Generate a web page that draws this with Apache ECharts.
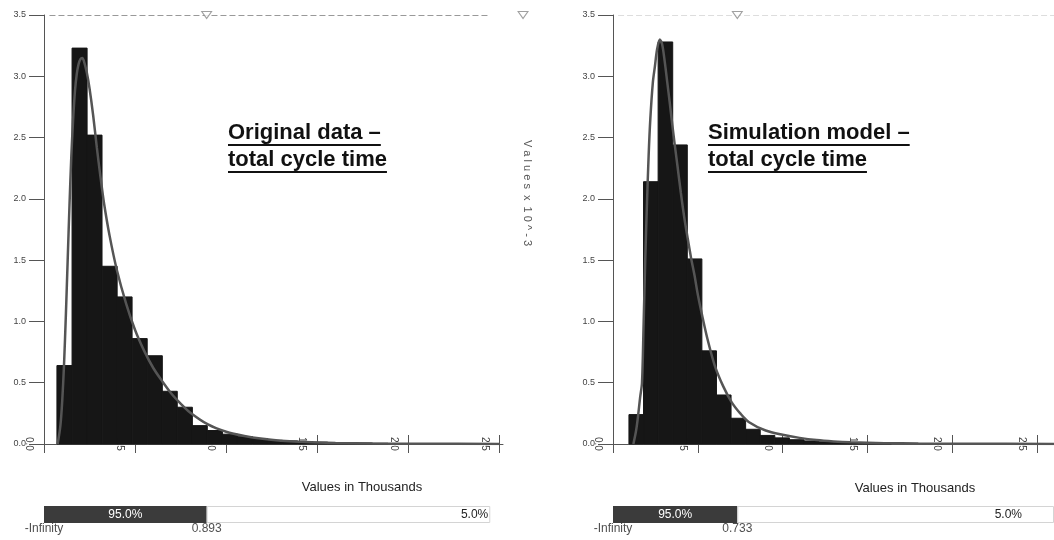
<!DOCTYPE html>
<html><head><meta charset="utf-8">
<script src="https://cdn.jsdelivr.net/npm/echarts@6/dist/echarts.min.js"></script>
<style>html,body{margin:0;padding:0;background:#fff}#c{width:1054px;height:540px}</style>
</head><body><div id="c"></div>
<script>
// ---------------- data ----------------
const xTickValues = [0, 0.5, 1.0, 1.5, 2.0, 2.5];
const xTickLabels = ['0.0', '0.5', '1.0', '1.5', '2.0', '2.5'];
const yTickLabels = ['0.0', '0.5', '1.0', '1.5', '2.0', '2.5', '3.0', '3.5'];

// Left: original data histogram (bin starts, in thousands; heights x 10^-3)
const leftBinWidth = 0.0826;
const leftBinStarts = [0.071, 0.154, 0.236, 0.319, 0.401, 0.484, 0.567, 0.649, 0.732, 0.814, 0.897,
  0.980, 1.062, 1.145, 1.227, 1.310, 1.393, 1.475, 1.558, 1.640, 1.723, 1.806];
const leftBinHeights = [0.64, 3.23, 2.52, 1.45, 1.20, 0.86, 0.72, 0.43, 0.30, 0.15, 0.11,
  0.08, 0.06, 0.045, 0.03, 0.025, 0.02, 0.015, 0.012, 0.01, 0.008, 0.006];
const leftCurveX = [0.075, 0.09, 0.10, 0.11, 0.12, 0.13, 0.14, 0.15, 0.16, 0.17, 0.18, 0.19, 0.20, 0.21,
  0.22, 0.235, 0.25, 0.27, 0.29, 0.31, 0.33, 0.36, 0.40, 0.45, 0.50, 0.55, 0.60, 0.65, 0.70, 0.75, 0.80,
  0.90, 1.00, 1.10, 1.20, 1.30, 1.40, 1.60, 1.80, 2.10, 2.50];
const leftCurveY = [0, 0.15, 0.35, 0.65, 1.05, 1.5, 1.95, 2.35, 2.65, 2.88, 3.02, 3.1, 3.14, 3.15,
  3.12, 3.03, 2.9, 2.68, 2.42, 2.18, 1.96, 1.70, 1.42, 1.15, 0.93, 0.76, 0.62, 0.51, 0.41, 0.33, 0.26,
  0.16, 0.10, 0.065, 0.042, 0.027, 0.018, 0.008, 0.004, 0.002, 0.001];

// Right: simulation model histogram
const rightBinWidth = 0.086;
const rightBinStarts = [0.094, 0.180, 0.266, 0.352, 0.438, 0.524, 0.610, 0.696, 0.782, 0.868, 0.954,
  1.040, 1.126, 1.212, 1.298, 1.384, 1.470, 1.556];
const rightBinHeights = [0.24, 2.14, 3.28, 2.44, 1.51, 0.76, 0.40, 0.21, 0.12, 0.07, 0.05,
  0.035, 0.025, 0.018, 0.012, 0.008, 0.006, 0.004];
const rightCurveX = [0.12, 0.135, 0.147, 0.16, 0.171, 0.18, 0.19, 0.20, 0.21, 0.22, 0.235, 0.247, 0.26,
  0.276, 0.29, 0.305, 0.32, 0.335, 0.35, 0.365, 0.38, 0.40, 0.42, 0.44, 0.46, 0.48, 0.50, 0.53, 0.56,
  0.60, 0.65, 0.70, 0.75, 0.80, 0.90, 1.00, 1.10, 1.20, 1.30, 1.40, 1.60, 1.80, 2.10, 2.60];
const rightCurveY = [0, 0.1, 0.22, 0.38, 0.5, 0.95, 1.5, 1.95, 2.35, 2.65, 2.95, 3.08, 3.22,
  3.30, 3.26, 3.12, 2.95, 2.78, 2.6, 2.43, 2.27, 2.05, 1.85, 1.68, 1.52, 1.38, 1.22, 1.02, 0.84,
  0.64, 0.47, 0.34, 0.25, 0.18, 0.11, 0.075, 0.05, 0.032, 0.021, 0.014, 0.007, 0.004, 0.002, 0.001];

// Percentile bars
const leftCut = 0.893;
const rightCut = 0.733;
const pctLabels = ['95.0%', '5.0%'];
const lowerBoundLabel = '-Infinity';

// ---------------- layout ----------------
const FONT = '"Liberation Sans", Arial, sans-serif';
const leftMax = 2.52, rightMax = 2.6;
const leftBarEnd = 2.45, rightBarEnd = 2.6;
const leftUpperMarker = 2.63;

function mainX(gridIndex, max) {
  return {
    type: 'value', gridIndex, min: 0, max, position: 'bottom',
    axisLine: { show: true, onZero: false, lineStyle: { color: '#555', width: 1 } },
    axisTick: { show: true, length: 9, customValues: xTickValues, lineStyle: { color: '#555' } },
    axisLabel: {
      show: true, customValues: xTickValues,
      formatter: v => { const i = xTickValues.indexOf(v); return i >= 0 ? xTickLabels[i] : ''; },
      rotate: -90, margin: -7, verticalAlign: 'top', padding: [10, 0, 0, 0],
      fontSize: 10, color: '#444', fontFamily: FONT
    },
    splitLine: { show: false }
  };
}
function innerX(gridIndex, max) {
  return {
    type: 'value', gridIndex, min: 0, max, position: 'bottom',
    axisLine: { show: false },
    axisTick: { show: true, inside: true, length: 9, customValues: xTickValues, lineStyle: { color: '#555' } },
    axisLabel: { show: false }, splitLine: { show: false }
  };
}
function mainY(gridIndex) {
  return {
    type: 'value', gridIndex, min: 0, max: 3.5, interval: 0.5,
    axisLine: { show: true, lineStyle: { color: '#555' } },
    axisTick: { show: true, length: 15, lineStyle: { color: '#555' } },
    axisLabel: { margin: 18, fontSize: 9, color: '#444', fontFamily: FONT,
      formatter: v => yTickLabels[Math.round(v / 0.5)] },
    splitLine: { show: false }
  };
}
function innerY(gridIndex) {
  return {
    type: 'value', gridIndex, min: 0, max: 3.5, interval: 0.5,
    axisLine: { show: false },
    axisTick: { show: true, inside: true, length: 15, lineStyle: { color: '#555' } },
    axisLabel: { show: false }, splitLine: { show: false }
  };
}

function histSeries(axisIdx, starts, heights, width) {
  return {
    type: 'custom', xAxisIndex: axisIdx, yAxisIndex: axisIdx, z: 3, clip: false,
    data: starts.map((s, i) => [s, heights[i]]),
    renderItem: (params, api) => {
      const x0 = api.value(0), h = api.value(1);
      const a = api.coord([x0, h]), b = api.coord([x0 + width, 0]);
      return { type: 'rect', shape: { x: a[0], y: a[1], width: b[0] - a[0], height: b[1] - a[1] },
        style: { fill: '#161616', stroke: '#161616', lineWidth: 1 } };
    }
  };
}
function curveSeries(axisIdx, xs, ys) {
  return {
    type: 'line', xAxisIndex: axisIdx, yAxisIndex: axisIdx, z: 4,
    data: xs.map((x, i) => [x, ys[i]]),
    smooth: 0.3, showSymbol: false, symbol: 'none',
    lineStyle: { color: '#555', width: 2.5 }
  };
}
function markerSeries(axisIdx, xs, lineEnd, lineColor) {
  return {
    type: 'scatter', xAxisIndex: axisIdx, yAxisIndex: axisIdx, z: 6, clip: false,
    data: xs.map(x => [x, 3.5]),
    symbol: 'triangle', symbolRotate: 180, symbolSize: [10, 7],
    itemStyle: { color: '#fff', borderColor: '#888', borderWidth: 1 },
    markLine: {
      silent: true, symbol: 'none', label: { show: false },
      lineStyle: { color: lineColor, type: [6, 3], width: 1 },
      data: [[{ coord: [0.03, 3.5] }, { coord: [lineEnd, 3.5] }]]
    }
  };
}
function pctBars(axisIdx, cut, end, rightDist) {
  return [
    {
      type: 'bar', xAxisIndex: axisIdx, yAxisIndex: axisIdx, stack: 'p' + axisIdx, barWidth: 17,
      data: [cut], itemStyle: { color: '#3b3b3b' },
      label: { show: true, position: 'inside', formatter: pctLabels[0], color: '#fff', fontSize: 12, fontFamily: FONT }
    },
    {
      type: 'bar', xAxisIndex: axisIdx, yAxisIndex: axisIdx, stack: 'p' + axisIdx, barWidth: 17,
      data: [end - cut], itemStyle: { color: '#fff', borderColor: '#d4d4d4', borderWidth: 1 },
      label: { show: true, position: 'insideRight', distance: rightDist, formatter: pctLabels[1], color: '#222', fontSize: 12, fontFamily: FONT }
    },
    {
      type: 'scatter', xAxisIndex: axisIdx, yAxisIndex: axisIdx, symbolSize: 0, z: 5,
      data: [[0, 'p'], [cut, 'p']],
      label: { show: true, position: 'bottom', distance: 8, color: '#222', fontSize: 12, fontFamily: FONT,
        formatter: p => p.dataIndex === 0 ? lowerBoundLabel : cut.toFixed(3) }
    }
  ];
}

// measure text for underlines
const ctx = document.createElement('canvas').getContext('2d');
const TITLE_FONT = 'bold 22px "Liberation Sans", Arial, sans-serif';
ctx.font = TITLE_FONT;
function titleGroup(x, lines) {
  const els = [];
  lines.forEach((t, i) => {
    const y = 133 + i * 27;
    els.push({ type: 'text', x, y, style: { text: t, font: TITLE_FONT, fill: '#111', verticalAlign: 'middle', align: 'left' } });
    const w = ctx.measureText(t).width;
    els.push({ type: 'rect', shape: { x, y: y + 11, width: w, height: 2 }, style: { fill: '#111' } });
  });
  return els;
}

const option = {
  animation: false,
  backgroundColor: '#fff',
  grid: [
    { left: 44, top: 15, width: 459, height: 429 },
    { left: 613, top: 15, width: 442, height: 429 },
    { left: 44, top: 506, width: 459, height: 17 },
    { left: 613, top: 506, width: 442, height: 17 }
  ],
  xAxis: [
    mainX(0, leftMax), innerX(0, leftMax),
    mainX(1, rightMax), innerX(1, rightMax),
    { type: 'value', gridIndex: 2, min: 0, max: leftMax, show: false },
    { type: 'value', gridIndex: 3, min: 0, max: rightMax, show: false }
  ],
  yAxis: [
    mainY(0), innerY(0), mainY(1), innerY(1),
    { type: 'category', gridIndex: 2, data: ['p'], show: false },
    { type: 'category', gridIndex: 3, data: ['p'], show: false }
  ],
  series: [
    histSeries(0, leftBinStarts, leftBinHeights, leftBinWidth),
    curveSeries(0, leftCurveX, leftCurveY),
    markerSeries(0, [leftCut, leftUpperMarker], 2.45, '#999'),
    histSeries(2, rightBinStarts, rightBinHeights, rightBinWidth),
    curveSeries(2, rightCurveX, rightCurveY),
    markerSeries(2, [rightCut], 2.6, '#ddd'),
    ...pctBars(4, leftCut, leftBarEnd, 2),
    ...pctBars(5, rightCut, rightBarEnd, 32)
  ],
  graphic: [
    ...titleGroup(228, ['Original data \u2013', 'total cycle time']),
    ...titleGroup(708, ['Simulation model \u2013', 'total cycle time']),
    { type: 'text', x: 362, y: 487, style: { text: 'Values in Thousands', font: '13px "Liberation Sans", Arial, sans-serif', fill: '#222', align: 'center', verticalAlign: 'middle' } },
    { type: 'text', x: 915, y: 488, style: { text: 'Values in Thousands', font: '13px "Liberation Sans", Arial, sans-serif', fill: '#222', align: 'center', verticalAlign: 'middle' } },
    { type: 'text', x: 527, y: 193, rotation: -Math.PI / 2, style: { text: 'V a l u e s  x  1 0 ^ - 3', font: '11px "Liberation Sans", Arial, sans-serif', fill: '#555', align: 'center', verticalAlign: 'middle' } }
  ]
};
const chart = echarts.init(document.getElementById('c'));
chart.setOption(option);
</script>
</body></html>
